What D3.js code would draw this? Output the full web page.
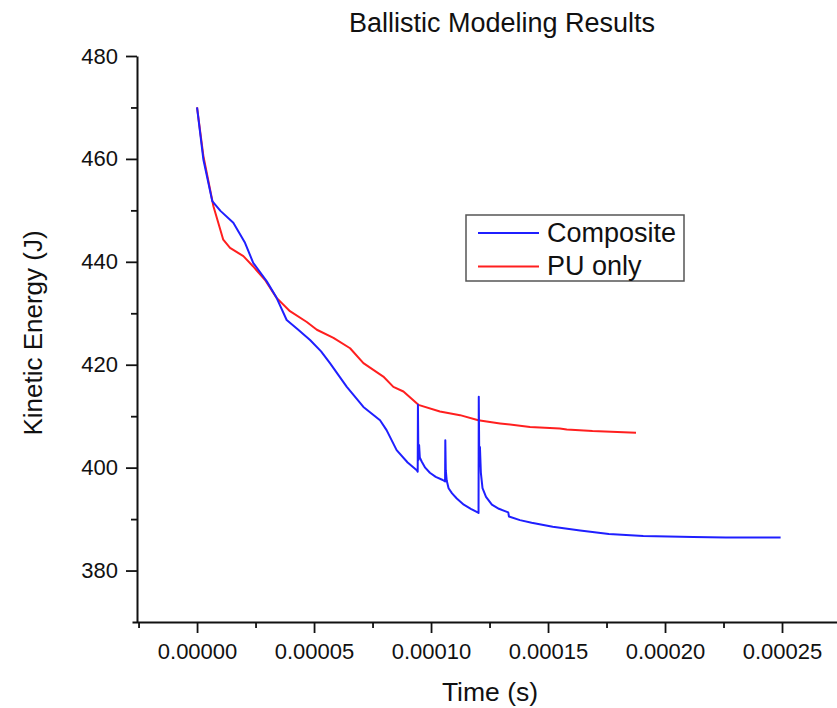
<!DOCTYPE html>
<html>
<head>
	<meta charset="utf-8">
	<title>Ballistic Modeling Results</title>
	<script src="https://d3js.org/d3.v7.min.js"></script>
	<style>
		body { margin: 0; background: #fff; }
		text { font-family: "Liberation Sans", Arial, sans-serif; fill: #111; }
		.axis .domain { stroke: #111; stroke-width: 2; }
		.axis .tick line { stroke: #111; stroke-width: 1.8; }
		.axis .tick text { font-size: 22px; fill: #111; }
	</style>
</head>
<body>
<script>
	// --- data (time in s, kinetic energy in J) ---
	var compositeTime = [0, 0.27e-5, 0.65e-5, 1.0e-5, 1.55e-5, 2.05e-5, 2.4e-5, 2.98e-5, 3.4e-5, 3.83e-5,
		4.3e-5, 4.83e-5, 5.3e-5, 5.68e-5, 6.4e-5, 7.11e-5, 7.82e-5, 8.1e-5, 8.53e-5, 9.0e-5, 9.39e-5, 9.43e-5,
		9.44e-5, 9.46e-5, 9.49e-5, 9.52e-5, 9.6e-5, 9.75e-5, 9.95e-5, 10.2e-5, 10.5e-5, 10.6e-5,
		10.61e-5, 10.63e-5, 10.67e-5, 10.75e-5, 10.9e-5, 11.1e-5, 11.4e-5, 11.7e-5, 11.95e-5, 12.03e-5,
		12.04e-5, 12.06e-5, 12.09e-5, 12.13e-5, 12.2e-5, 12.35e-5, 12.6e-5, 12.9e-5, 13.3e-5, 13.33e-5,
		13.8e-5, 14.3e-5, 15.2e-5, 16.37e-5, 17.6e-5, 19.07e-5, 21.2e-5, 22.6e-5, 24.94e-5];
	var compositeKE = [470, 459.9, 451.8, 449.9, 447.6, 443.7, 439.8, 436.2, 433, 428.7,
		426.9, 424.8, 422.6, 420.3, 415.7, 411.8, 409.2, 407.3, 403.4, 401, 399.5, 399.2,
		412.2, 401.5, 404.4, 402.0, 401.2, 400.0, 399.0, 398.2, 397.6, 397.3,
		405.3, 399.5, 397.5, 396.0, 395.0, 394.0, 392.8, 392.0, 391.4, 391.2,
		413.8, 402.5, 404.0, 399.0, 396.0, 394.3, 392.8, 392.0, 391.3, 390.5,
		389.8, 389.3, 388.5, 387.8, 387.1, 386.7, 386.5, 386.4, 386.4];

	var puTime = [0, 0.27e-5, 0.7e-5, 1.12e-5, 1.41e-5, 1.98e-5, 2.4e-5, 2.9e-5, 3.4e-5, 3.97e-5,
		4.69e-5, 5.12e-5, 5.83e-5, 6.54e-5, 7.11e-5, 7.96e-5, 8.39e-5, 8.82e-5, 9.46e-5, 10.38e-5,
		11.24e-5, 12.02e-5, 12.95e-5, 14.23e-5, 15.5e-5, 15.8e-5, 16.9e-5, 18.76e-5];
	var puKE = [470, 460.6, 450.8, 444.3, 442.7, 441.1, 439.1, 436.5, 433, 430.4,
		428.3, 426.8, 425.2, 423.2, 420.3, 417.7, 415.7, 414.8, 412.2, 410.9,
		410.2, 409.2, 408.6, 407.9, 407.6, 407.4, 407.1, 406.8];

	var seriesNames = ["Composite", "PU only"];
	var seriesColors = ["#1f1fff", "#ff1f1f"];

	var xTickValues = [0, 0.00005, 0.00010, 0.00015, 0.00020, 0.00025];
	var xMinorTicks = [-0.000025, 0.000025, 0.000075, 0.000125, 0.000175, 0.000225];
	var yTickValues = [380, 400, 420, 440, 460, 480];
	var yMinorTicks = [390, 410, 430, 450, 470];

	var svgWidth = 837, svgHeight = 708;

	var svg = d3.select("body").append("svg")
		.attr("width", svgWidth)
		.attr("height", svgHeight);

	// scales: x(0)=197, x(0.00025)=782 ; axis runs 132..837
	var x = d3.scaleLinear().domain([-0.0000278, 0.0002735]).range([132, 837]);
	var y = d3.scaleLinear().domain([370, 480]).range([622, 56]);
	var yAxisX = 137;

	// x axis
	svg.append("g")
		.attr("class", "axis")
		.attr("transform", "translate(0,622)")
		.call(d3.axisBottom(x).tickValues(xTickValues).tickFormat(d3.format(".5f"))
			.tickSizeInner(11).tickSizeOuter(0).tickPadding(10));

	svg.append("g")
		.attr("class", "axis")
		.attr("transform", "translate(0,622)")
		.call(d3.axisBottom(x).tickValues(xMinorTicks).tickFormat("").tickSizeInner(6).tickSizeOuter(0))
		.call(function(g) { g.select(".domain").remove(); });

	// y axis
	svg.append("g")
		.attr("class", "axis")
		.attr("transform", "translate(" + yAxisX + ",0)")
		.call(d3.axisLeft(y).tickValues(yTickValues).tickSizeInner(11).tickSizeOuter(0).tickPadding(8));

	svg.append("g")
		.attr("class", "axis")
		.attr("transform", "translate(" + yAxisX + ",0)")
		.call(d3.axisLeft(y).tickValues(yMinorTicks).tickFormat("").tickSizeInner(6).tickSizeOuter(0))
		.call(function(g) { g.select(".domain").remove(); });

	// lines
	var line = d3.line()
		.x(function(d) { return x(d[0]); })
		.y(function(d) { return y(d[1]); });

	var series = [d3.zip(compositeTime, compositeKE), d3.zip(puTime, puKE)];

	// draw PU first so composite sits on top at the start, like the picture
	[1, 0].forEach(function(i) {
		svg.append("path")
			.datum(series[i])
			.attr("fill", "none")
			.attr("stroke", seriesColors[i])
			.attr("stroke-width", 2)
			.attr("stroke-linejoin", "round")
			.attr("d", line);
	});

	// title and axis labels
	svg.append("text")
		.attr("x", 502).attr("y", 32)
		.attr("text-anchor", "middle")
		.style("font-size", "27px")
		.text("Ballistic Modeling Results");

	svg.append("text")
		.attr("x", 490).attr("y", 701)
		.attr("text-anchor", "middle")
		.style("font-size", "26.5px")
		.text("Time (s)");

	svg.append("text")
		.attr("transform", "translate(42,333) rotate(-90)")
		.attr("text-anchor", "middle")
		.style("font-size", "26px")
		.text("Kinetic Energy (J)");

	// legend
	var legend = svg.append("g").attr("transform", "translate(466,215)");
	legend.append("rect")
		.attr("width", 218).attr("height", 66)
		.attr("fill", "#fff")
		.attr("stroke", "#555")
		.attr("stroke-width", 1.5);

	seriesNames.forEach(function(name, i) {
		var ly = 18 + i * 33.4;
		legend.append("line")
			.attr("x1", 12).attr("x2", 73)
			.attr("y1", ly).attr("y2", ly)
			.attr("stroke", seriesColors[i])
			.attr("stroke-width", 2);
		legend.append("text")
			.attr("x", 81).attr("y", ly + 9)
			.style("font-size", "27px")
			.text(name);
	});
</script>
</body>
</html>
